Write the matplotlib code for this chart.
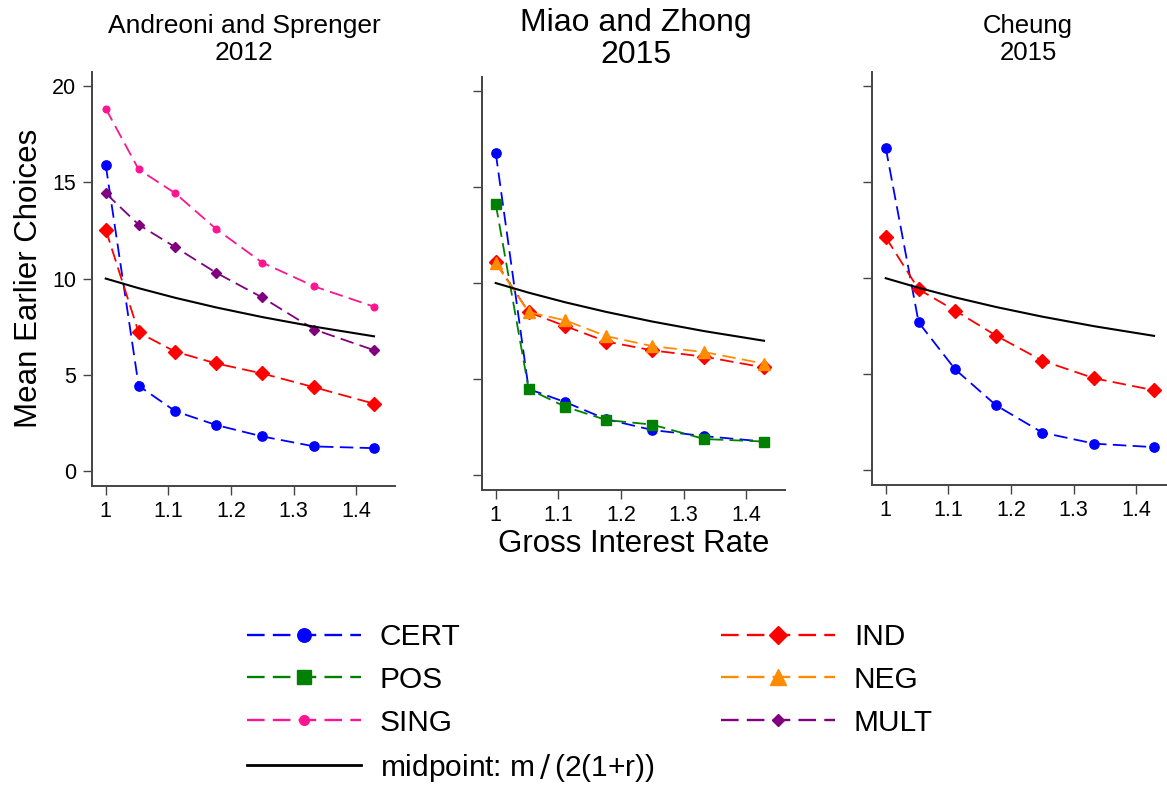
import matplotlib
matplotlib.use("Agg")
import matplotlib.pyplot as plt
from matplotlib.lines import Line2D

plt.rcParams['font.family'] = ['Liberation Sans', 'DejaVu Sans']

W, H = 1167, 786

# ---------------- data ----------------
gross = [1.0, 1.0526, 1.1111, 1.1765, 1.25, 1.3333, 1.4286]
M_BUDGET = 20  # m in midpoint formula

as_cert = [15.9, 4.43, 3.11, 2.39, 1.80, 1.28, 1.19]
as_ind = [12.54, 7.2, 6.2, 5.59, 5.07, 4.35, 3.5]
as_sing = [18.83, 15.67, 14.43, 12.57, 10.83, 9.59, 8.54]
as_mult = [14.43, 12.8, 11.63, 10.3, 9.02, 7.35, 6.28]

mz_cert = [16.77, 4.49, 3.81, 2.92, 2.36, 2.04, 1.76]
mz_pos = [14.11, 4.49, 3.57, 2.88, 2.64, 1.89, 1.76]
mz_ind = [11.09, 8.49, 7.76, 6.96, 6.5, 6.17, 5.61]
mz_neg = [11.03, 8.49, 8.06, 7.24, 6.72, 6.41, 5.81]

ch_cert = [16.79, 7.70, 5.25, 3.38, 1.97, 1.39, 1.21]
ch_ind = [12.13, 9.42, 8.31, 7.01, 5.71, 4.79, 4.17]

midpoint = [M_BUDGET / (2 * g) for g in gross]

xticks = [1, 1.1, 1.2, 1.3, 1.4]
xticklabels = ["1", "1.1", "1.2", "1.3", "1.4"]
yticks = [0, 5, 10, 15, 20]
yticklabels = ["0", "5", "10", "15", "20"]

titles = [("Andreoni and Sprenger", "2012"), ("Miao and Zhong", "2015"), ("Cheung", "2015")]

# ---------------- styles ----------------
STY = {
    'CERT': dict(color='#0000FF', marker='o', ms=6.7, lms=9.7),
    'POS': dict(color='#008000', marker='s', ms=7.2, lms=10),
    'SING': dict(color='#FF1493', marker='o', ms=4.8, lms=7),
    'IND': dict(color='#FF0000', marker='D', ms=6.8, lms=9.0),
    'NEG': dict(color='#FF8C00', marker='^', ms=8.0, lms=11),
    'MULT': dict(color='#800080', marker='D', ms=4.8, lms=6.4),
}
DASH = (7.5, 3.5)
LW = 1.3
SPINE = '#444444'

fig = plt.figure(figsize=(W / 100, H / 100), dpi=100)


def rect(l, r, t, b):
    return [l / W, 1 - b / H, (r - l) / W, (b - t) / H]


axes = [
    fig.add_axes(rect(91.7, 395, 72, 485.7)),
    fig.add_axes(rect(481.7, 785, 76.7, 490)),
    fig.add_axes(rect(871.7, 1175, 72, 485)),
]

panels = [
    [('CERT', as_cert), ('IND', as_ind), ('SING', as_sing), ('MULT', as_mult)],
    [('CERT', mz_cert), ('IND', mz_ind), ('POS', mz_pos), ('NEG', mz_neg)],
    [('CERT', ch_cert), ('IND', ch_ind)],
]

for i, (ax, series) in enumerate(zip(axes, panels)):
    for name, vals in series:
        s = STY[name]
        ax.plot(gross, vals, linestyle='--', dashes=DASH, lw=LW, color=s['color'],
                marker=s['marker'], ms=s['ms'], mec=s['color'], mfc=s['color'])
    ax.plot(gross, midpoint, color='black', lw=1.5)
    ax.set_xlim(0.9776, 1.4621)
    ax.set_ylim(-0.76, 20.73)
    for sp in ['top', 'right']:
        ax.spines[sp].set_visible(False)
    for sp in ['left', 'bottom']:
        ax.spines[sp].set_color(SPINE)
        ax.spines[sp].set_linewidth(1.4)
    ax.set_xticks(xticks)
    ax.set_xticklabels(xticklabels)
    ax.set_yticks(yticks)
    if i == 0:
        ax.set_yticklabels(yticklabels)
    else:
        ax.set_yticklabels([])
    ax.tick_params(axis='both', direction='out', length=6.5, width=1.0,
                   color=SPINE, labelsize=15.5, pad=4.5)
    ax.patch.set_visible(False)

axes[0].set_ylabel("Mean Earlier Choices", fontsize=22.5, labelpad=6)
axes[1].set_xlabel("Gross Interest Rate", fontsize=22.5, labelpad=2)

# titles
title_pos = [(244.5, 25.7, 52.8, 19), (636, 23, 55, 23), (1028, 25.7, 53, 18.5)]
for (l1, l2), (cx, y1, y2, fs) in zip(titles, title_pos):
    fig.text(cx / W, 1 - y1 / H, l1, ha='center', va='center', fontsize=fs)
    fig.text(cx / W, 1 - y2 / H, l2, ha='center', va='center', fontsize=fs)


# legends
def handle(name):
    s = STY[name]
    return Line2D([], [], linestyle='--', dashes=DASH, lw=LW * 1.3, color=s['color'],
                  marker=s['marker'], ms=s['lms'], mec=s['color'], mfc=s['color'])


left_names = ['CERT', 'POS', 'SING']
right_names = ['IND', 'NEG', 'MULT']
lh = [handle(n) for n in left_names] + [Line2D([], [], color='black', lw=2.0)]
ll = left_names + ['midpoint: m$\\,/\\,$(2(1+r))']
rh = [handle(n) for n in right_names]

common = dict(frameon=False, fontsize=21.5, handlelength=3.83, handletextpad=0.62,
              labelspacing=0.5, borderpad=0, borderaxespad=0, numpoints=1, loc='upper left')
leg1 = fig.legend(lh, ll, bbox_to_anchor=(247 / W, 1 - 623 / H), **common)
leg2 = fig.legend(rh, right_names, bbox_to_anchor=(721 / W, 1 - 623 / H), **common)

fig.savefig("out.png", dpi=100)
